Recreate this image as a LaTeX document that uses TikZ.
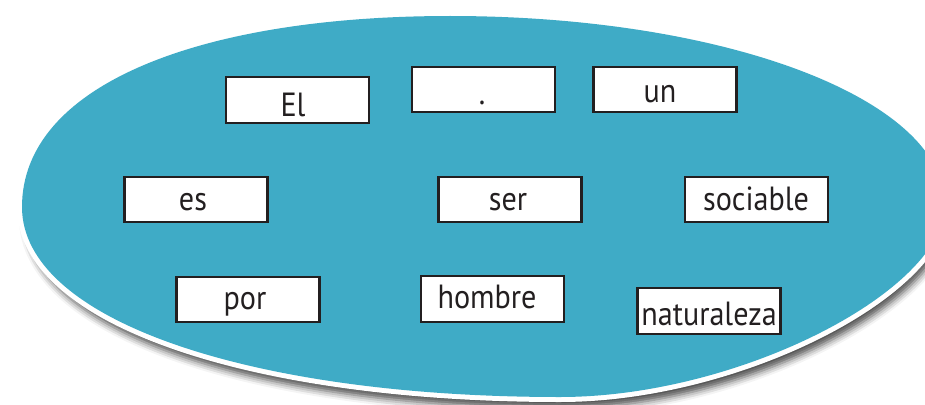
\documentclass[tikz,border=0pt]{standalone}
\usepackage{fontspec}
\setmainfont{PT Sans}[FakeStretch=0.9]
\usetikzlibrary{shadows.blur}
\definecolor{tealfill}{HTML}{3FABC6}
\definecolor{ink}{HTML}{231F20}
\begin{document}
\begin{tikzpicture}[x=1pt,y=-1pt,
  wordbox/.style={draw=ink, line width=2.2pt, fill=white, minimum width=143pt, minimum height=45.5pt, inner sep=0pt},
  lbl/.style={text=ink, font=\fontsize{33.5}{33.5}\selectfont, anchor=base, inner sep=0pt}]
\useasboundingbox (0,0) rectangle (925,404);
\clip (0,0) rectangle (925,404);
\def\ovalpath{(22,207) .. controls (22,85) and (200,16) .. (450,16) .. controls (723,16) and (945,98) .. (945,205) .. controls (945,290) and (740,397) .. (560,397) .. controls (250,397) and (22,320) .. (22,207) -- cycle}
\path[fill=white, draw=white, line width=10pt, blur shadow={shadow xshift=4pt, shadow yshift=-11pt, shadow blur radius=7pt, shadow opacity=70}] \ovalpath;
\fill[tealfill] \ovalpath;
% boxes
\node[wordbox] (el) at (297.5,100) {};
\node[wordbox] (dot) at (483.5,89.5) {};
\node[wordbox] (un) at (665,89.5) {};
\node[wordbox] (es) at (196,199.5) {};
\node[wordbox] (ser) at (510,199.5) {};
\node[wordbox] (soc) at (756.5,199.5) {};
\node[wordbox] (por) at (248,299.5) {};
\node[wordbox] (hom) at (492.5,299) {};
\node[wordbox] (nat) at (709,311) {};
% words
\node[lbl] (tel) at (293,116) {El};
\node[lbl] (tdot) at (482,104) {.};
\node[lbl] (tun) at (660,102) {un};
\node[lbl] (tes) at (193,210) {es};
\node[lbl] (tser) at (508,210) {ser};
\node[lbl] (tsoc) at (756,210) {sociable};
\node[lbl] (tpor) at (245,309) {por};
\node[lbl] (thom) at (487,308) {hombre};
\node[lbl] (tnat) at (709,325) {naturaleza};
\end{tikzpicture}
\end{document}
